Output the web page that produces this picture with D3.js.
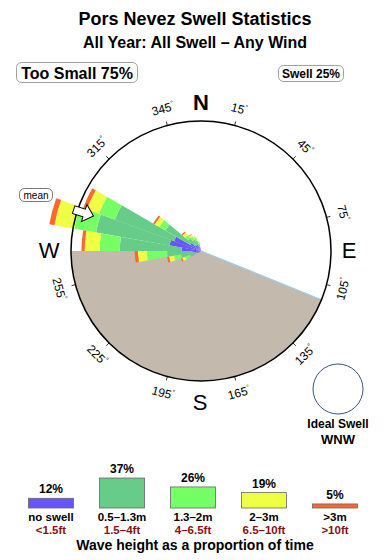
<!DOCTYPE html>
<html><head><meta charset="utf-8">
<script src="https://cdn.jsdelivr.net/npm/d3@7"></script>
<style>body{margin:0;background:#fff}svg{display:block;font-family:"Liberation Sans",Arial,Helvetica,sans-serif}</style>
</head><body><svg id="c" width="390" height="560"></svg>
<script>
// ---- data ----
const categories = ["no swell","0.5–1.3m","1.3–2m","2–3m",">3m"];
const feetLabels = ["<1.5ft","1.5–4ft","4–6.5ft","6.5–10ft",">10ft"];
const categoryShares = [12,37,26,19,5];
const colors = ["#6655ff","#66cc88","#77ff66","#eeff44","#ff6633"];
const directions = [245,255,265,275,285,295,305,315,325,335,345];
const noSwell = [0.6,0.9,1.3,3.0,4.9,4.4,1.9,1.2,1.1,0.9,0.6];
const small   = [1.2,2.2,3.9,9.5,11.5,9.7,4.4,1.4,0.9,0.8,0.5];
const medium  = [0.8,1.1,3.1,3.1,3.4,2.6,1.1,0.6,0.6,0.5,0.3];
const large   = [0.5,0.8,1.4,2.3,3.1,2.0,0.8,0.5,0.3,0.3,0.2];
const huge    = [0.2,0.3,0.5,0.5,0.8,0.6,0.3,0.2,0.1,0,0];
const degreeTicks = [15,45,75,105,135,165,195,225,255,315,345];
const compass = [["N",0],["E",90],["S",180],["W",270]];
const binWidth = 10;
const coastFrom = 112, coastTo = 270;
const meanDirection = 288;
const idealSwell = "WNW";
const tooSmall = 75, swellShare = 25;
const title = "Pors Nevez Swell Statistics";
const subtitle = "All Year: All Swell – Any Wind";

// ---- layout ----
const svg = d3.select("#c");
const cx = 201, cy = 251, R = 130;
const rad = d => d * Math.PI / 180;
const r = d3.scaleLinear().domain([0, 20]).range([0, R]);

svg.append("text").attr("x",195).attr("y",25).attr("text-anchor","middle")
  .attr("font-weight","bold").attr("font-size",18).text(title);
svg.append("text").attr("x",195).attr("y",48).attr("text-anchor","middle")
  .attr("font-weight","bold").attr("font-size",16).text(subtitle);

function pill(x, y, w, h, txt, fs, tx, ty){
  svg.append("rect").attr("x",x).attr("y",y).attr("width",w).attr("height",h)
    .attr("rx",5).attr("fill","#fff").attr("stroke","#888").attr("stroke-width",0.8);
  svg.append("text").attr("x",tx).attr("y",ty).attr("text-anchor","middle")
    .attr("font-weight","bold").attr("font-size",fs).text(txt);
}
pill(16.5,62.5,121,20,`Too Small ${tooSmall}%`,16,77,79);
pill(278.5,65.5,65,16,`Swell ${swellShare}%`,12,311,78);

const g = svg.append("g").attr("transform",`translate(${cx},${cy})`);

// coast / land
g.append("path").attr("d", d3.arc()({innerRadius:0, outerRadius:R, startAngle:rad(coastFrom), endAngle:rad(coastTo)}))
  .attr("fill","#c4b9ad");
g.append("line").attr("x1",0).attr("y1",0)
  .attr("x2",R*Math.sin(rad(coastFrom))).attr("y2",-R*Math.cos(rad(coastFrom)))
  .attr("stroke","#99ccee").attr("stroke-width",1.2);

// rose
const table = directions.map((d,i)=>({dir:d, c0:noSwell[i], c1:small[i], c2:medium[i], c3:large[i], c4:huge[i]}));
const stack = d3.stack().keys(["c0","c1","c2","c3","c4"])(table);
const arc = d3.arc();
stack.forEach((layer, k) => {
  g.append("g").selectAll("path").data(layer).join("path")
    .attr("d", d => arc({innerRadius:r(d[0]), outerRadius:r(d[1]),
      startAngle:rad(d.data.dir - binWidth/2), endAngle:rad(d.data.dir + binWidth/2)}))
    .attr("fill", colors[k]);
});

// circle
g.append("circle").attr("r",R).attr("fill","none").attr("stroke","#000").attr("stroke-width",1.5);

// ticks + degree labels
degreeTicks.forEach(d => {
  const s = Math.sin(rad(d)), c = Math.cos(rad(d));
  g.append("line").attr("x1",R*s).attr("y1",-R*c).attr("x2",(R+4)*s).attr("y2",-(R+4)*c)
    .attr("stroke","#000").attr("stroke-width",0.8);
  const rot = (d <= 90 || d >= 270) ? d : d - 180;
  const t = g.append("text").attr("transform",`translate(${147*s},${-147*c}) rotate(${rot})`)
    .attr("text-anchor","middle").attr("dominant-baseline","central").attr("font-size",12);
  t.append("tspan").text(d);
  t.append("tspan").attr("font-size",7).attr("dy",-4).text("°");
});

// compass letters
compass.forEach(([l,d]) => {
  const pos = {N:[0,-141],E:[148,7],S:[-1,159],W:[-152,7]}[l];
  g.append("text").attr("x",pos[0]).attr("y",pos[1]).attr("text-anchor","middle")
    .attr("font-size",22).attr("font-weight", l==="N" ? "bold" : "normal").text(l);
});

// mean arrow
g.append("path").attr("transform",`rotate(${meanDirection})`)
  .attr("d", d3.line()([[0,-r(17.4)],[9,-r(18.9)],[4,-r(18.9)],[4,-r(20.6)],[-4,-r(20.6)],[-4,-r(18.9)],[-9,-r(18.9)]]) + "Z")
  .attr("fill","#fff").attr("stroke","#000").attr("stroke-width",1);
svg.append("rect").attr("x",19.5).attr("y",188.5).attr("width",33).attr("height",13).attr("rx",5)
  .attr("fill","#fff").attr("stroke","#555").attr("stroke-width",0.8);
svg.append("text").attr("x",36).attr("y",198.5).attr("text-anchor","middle").attr("font-size",10).text("mean");

// ideal swell
svg.append("circle").attr("cx",338).attr("cy",389).attr("r",25).attr("fill","none")
  .attr("stroke","#3a5577").attr("stroke-width",1);
svg.append("text").attr("x",338).attr("y",428).attr("text-anchor","middle").attr("font-weight","bold")
  .attr("font-size",12).text("Ideal Swell");
svg.append("text").attr("x",338).attr("y",444).attr("text-anchor","middle").attr("font-weight","bold")
  .attr("font-size",13).text(idealSwell);

// legend
const lx = d3.scalePoint().domain(categories).range([51,335]);
const lh = d3.scaleLinear().domain([0,100]).range([0,81]);
const base = 508, bw = 45;
categories.forEach((c,i) => {
  const x = lx(c), h = lh(categoryShares[i]);
  svg.append("rect").attr("x",x-bw/2).attr("y",base-h).attr("width",bw).attr("height",h)
    .attr("fill",colors[i]).attr("stroke","#666").attr("stroke-width",0.8);
  svg.append("text").attr("x",x).attr("y",base-h-5).attr("text-anchor","middle")
    .attr("font-weight","bold").attr("font-size",12).text(categoryShares[i]+"%");
  svg.append("text").attr("x",x).attr("y",521).attr("text-anchor","middle")
    .attr("font-weight","bold").attr("font-size",11.5).text(c);
  svg.append("text").attr("x",x).attr("y",533.5).attr("text-anchor","middle")
    .attr("font-weight","bold").attr("font-size",11.5).attr("fill","#881111").text(feetLabels[i]);
});
svg.append("text").attr("x",195).attr("y",550).attr("text-anchor","middle")
  .attr("font-weight","bold").attr("font-size",14).text("Wave height as a proportion of time");
</script></body></html>
